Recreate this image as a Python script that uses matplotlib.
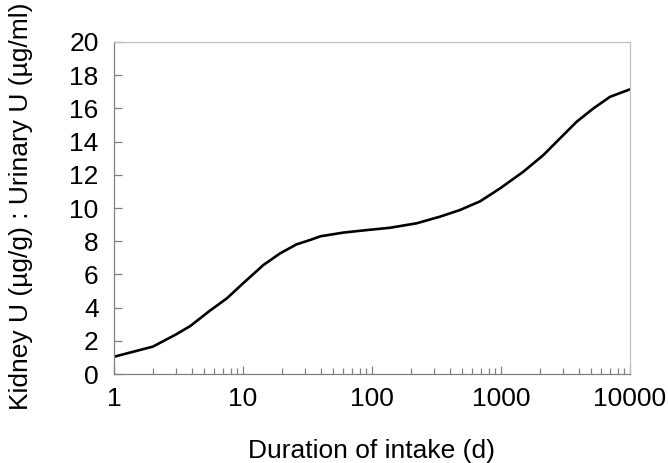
import matplotlib
matplotlib.use("Agg")
import matplotlib.pyplot as plt
from matplotlib.ticker import LogLocator, FixedLocator, NullFormatter

plt.rcParams["font.family"] = ["Liberation Sans", "DejaVu Sans"]

# duration of intake (d) and kidney:urine ratio
days = [1, 2, 3, 3.9, 5.5, 7.5, 10, 14.4, 19.4, 26, 33, 40, 60, 91, 138,
        222, 337, 481, 687, 982, 1490, 2130, 2870, 3860, 5200, 7000, 10000]
ratio = [1.04, 1.65, 2.37, 2.89, 3.8, 4.56, 5.46, 6.57, 7.27, 7.81, 8.07,
         8.3, 8.52, 8.67, 8.81, 9.08, 9.48, 9.88, 10.4, 11.18, 12.19, 13.19,
         14.2, 15.2, 16.0, 16.7, 17.15]

x_ticks = [1, 10, 100, 1000, 10000]
x_labels = ["1", "10", "100", "1000", "10000"]
y_ticks = list(range(0, 21, 2))

fig = plt.figure(figsize=(6.68, 4.63), dpi=100)
ax = fig.add_axes([0.1707, 0.1922, 0.7725, 0.7171])

ax.plot(days, ratio, color="black", lw=1.9, solid_joinstyle="round")

ax.set_xscale("log")
ax.set_xlim(1, 10000)
ax.set_ylim(0, 20)
ax.xaxis.set_major_locator(FixedLocator(x_ticks))
ax.set_xticklabels(x_labels)
ax.xaxis.set_minor_locator(LogLocator(base=10, subs=range(2, 10), numticks=20))
ax.xaxis.set_minor_formatter(NullFormatter())
ax.set_yticks(y_ticks)

for side in ["left", "bottom"]:
    ax.spines[side].set_color("#808080")
for side in ["top", "right"]:
    ax.spines[side].set_color("#c0c0c0")
for sp in ax.spines.values():
    sp.set_linewidth(0.9)

ax.tick_params(axis="both", which="major", direction="in", length=6,
               width=0.9, color="#808080", labelsize=19)
ax.tick_params(axis="x", which="major", pad=9)
ax.tick_params(axis="x", which="minor", direction="in", length=4,
               width=0.9, color="#808080")
ax.tick_params(axis="y", which="major", pad=11)

ax.set_xlabel("Duration of intake (d)", fontsize=19)
ax.set_ylabel("Kidney U (µg/g) : Urinary U (µg/ml)", fontsize=19)
ax.xaxis.set_label_coords(0.498, -0.195)
ax.yaxis.set_label_coords(-0.157, 0.505)

fig.savefig("out.png", dpi=100)
